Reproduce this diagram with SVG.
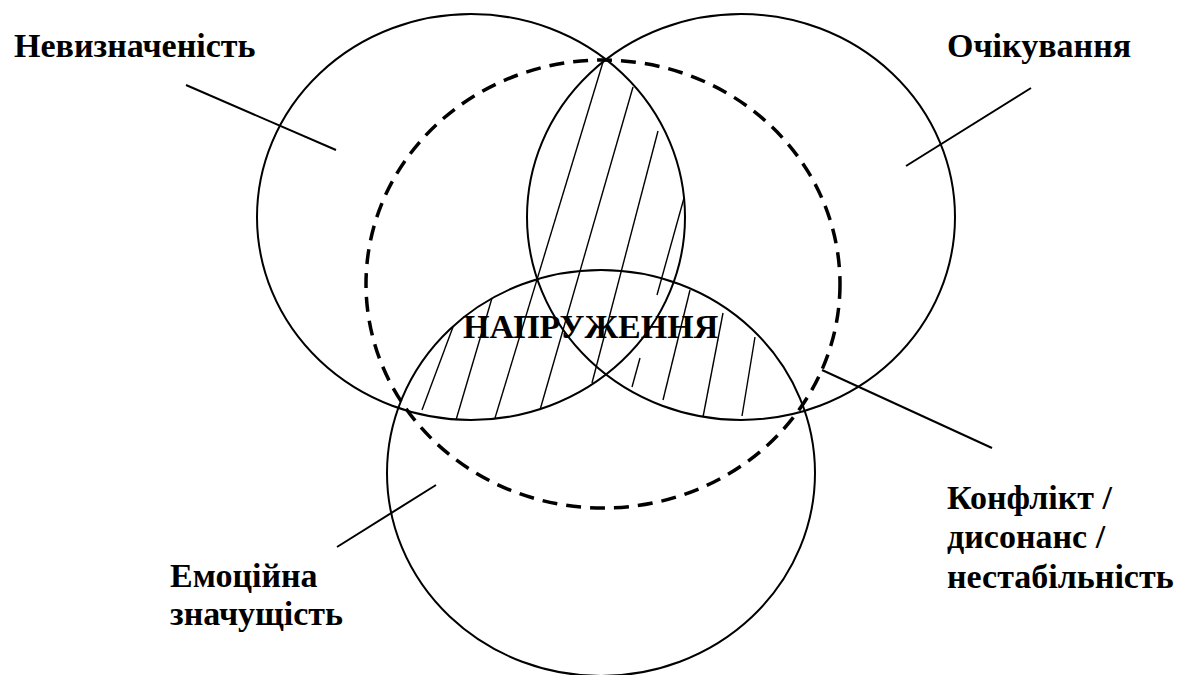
<svg xmlns="http://www.w3.org/2000/svg" width="1189" height="675" viewBox="0 0 1189 675">
<style>
.c{fill:none;stroke:#000;stroke-width:2}
.d{fill:none;stroke:#000;stroke-width:3.5;stroke-dasharray:15 9}
.h{stroke:#000;stroke-width:1.4;fill:none}
.l{stroke:#000;stroke-width:2;fill:none}
</style>
<rect width="1189" height="675" fill="#fff"/>
<g id="hatching">
<line class="h" x1="603" y1="62" x2="495" y2="418"/>
<line class="h" x1="633" y1="87" x2="540" y2="410"/>
<line class="h" x1="658" y1="131" x2="592" y2="383"/>
<line class="h" x1="684" y1="198" x2="657" y2="295"/>
<line class="h" x1="492" y1="298" x2="456" y2="420"/>
<line class="h" x1="453" y1="327" x2="422" y2="410"/>
<line class="h" x1="690" y1="290" x2="663" y2="400"/>
<line class="h" x1="723" y1="313" x2="703" y2="417"/>
<line class="h" x1="755" y1="337" x2="742" y2="416"/>
<line class="h" x1="640" y1="358" x2="632" y2="387"/>
</g>
<g id="node-nevyznachenist"><ellipse class="c" cx="471" cy="217" rx="214" ry="203"/></g>
<g id="node-ochikuvannia"><ellipse class="c" cx="741" cy="217" rx="214" ry="203"/></g>
<g id="node-emotsiina"><ellipse class="c" cx="601" cy="473" rx="214" ry="203"/></g>
<g id="node-konflikt"><ellipse class="d" cx="603" cy="284" rx="237" ry="224"/></g>
<g id="connectors">
<line class="l" x1="186" y1="85" x2="336" y2="150"/>
<line class="l" x1="1031" y1="88" x2="906" y2="166"/>
<line class="l" x1="436" y1="485" x2="337" y2="547"/>
<line class="l" x1="822" y1="370" x2="992" y2="448"/>
</g>
<g id="labels" font-family="'Liberation Serif', 'Times New Roman', serif" font-weight="bold" font-size="34" fill="#000">
<text x="14" y="57">Невизначеність</text>
<text x="947" y="57">Очікування</text>
<text x="463" y="338">НАПРУЖЕННЯ</text>
<text x="170" y="587">Емоційна</text>
<text x="170" y="625">значущість</text>
<text x="947" y="509">Конфлікт /</text>
<text x="947" y="548">дисонанс /</text>
<text x="947" y="588">нестабільність</text>
</g>
</svg>
